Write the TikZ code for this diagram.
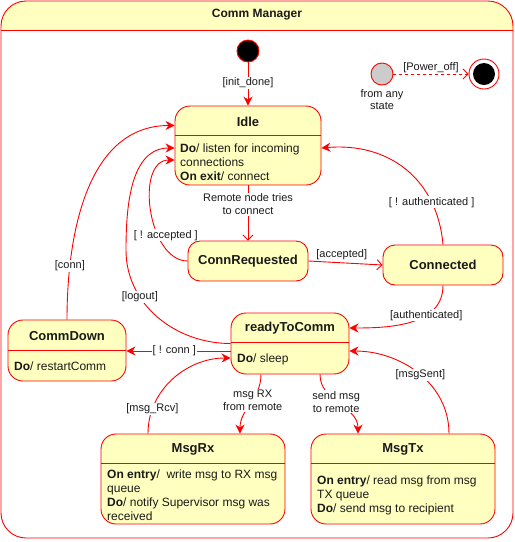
\documentclass[tikz,border=0pt]{standalone}
\usepackage{fontspec}
\setmainfont{Liberation Sans}
\usetikzlibrary{arrows.meta,calc,positioning}
\definecolor{stfill}{HTML}{FFFFC0}
\definecolor{stline}{HTML}{FF0000}
\definecolor{txt}{HTML}{1A1A1A}

\tikzset{
  stbox/.style={draw=stline, line width=0.9pt, fill=stfill, rounded corners=15pt, inner sep=0pt},
  sttitle/.style={font=\fontsize{13}{15}\selectfont\bfseries, text=txt},
  stbody/.style={font=\fontsize{12}{14}\selectfont, align=left, anchor=west, inner sep=0pt, text=txt},
  lbl/.style={font=\fontsize{11}{13}\selectfont, fill=white, inner sep=1pt, align=center, text=txt},
  tr/.style={draw=stline, line width=0.9pt, -{Stealth[length=9pt,width=9pt]}},
  tropen/.style={draw=stline, line width=0.9pt, -{Straight Barb[length=5pt,width=10pt]}},
}

\begin{document}
\begin{tikzpicture}[x=1pt,y=1pt]
  \useasboundingbox (0,0) rectangle (515,-542);
  % frame of the composite state
  \begin{scope}
    \clip (1,-1) rectangle (513,-30);
    \fill[stfill, rounded corners=25pt] (1,-1) rectangle (513,-538);
  \end{scope}
  \draw[stline, line width=0.9pt, rounded corners=25pt] (1,-1) rectangle (513,-538);
  \draw[stline, line width=0.9pt] (1,-30) -- (513,-30);
  \node[font=\fontsize{12}{14}\selectfont\bfseries, text=txt] (mgr) at (257,-15) {Comm Manager};

  % pseudo states
  \node[circle, fill=black, draw=stline, line width=0.9pt, minimum size=22pt, inner sep=0pt] (init) at (248,-51) {};
  \node[circle, fill=black!20, draw=stline, line width=0.9pt, minimum size=22pt, inner sep=0pt] (anyst) at (382,-74) {};
  \node[lbl, fill=none, below=3pt of anyst, font=\fontsize{11}{12}\selectfont] (anytxt) {from any\\state};
  \node[circle, draw=stline, line width=0.9pt, fill=white, minimum size=30pt, inner sep=0pt] (final) at (484,-74) {};
  \node[circle, fill=black, minimum size=22pt, inner sep=0pt] (finalin) at (final) {};

  % states
  \node[stbox, minimum width=146pt, minimum height=79pt] (idle) at (248,-145.5) {};
  \draw[stline, line width=0.9pt] ([yshift=-30pt]idle.north west) -- ([yshift=-30pt]idle.north east);
  \node[sttitle] (idlet) at ([yshift=-16pt]idle.north) {Idle};
  \node[stbody] (idleb) at (180,-162) {\textbf{Do}/ listen for incoming\\connections\\\textbf{On exit}/ connect};

  \node[stbox, rounded corners=12pt, minimum width=120pt, minimum height=40pt] (connreq) at (248,-261) {};
  \node[sttitle] (connreqt) at (connreq) {ConnRequested};

  \node[stbox, rounded corners=12pt, minimum width=120pt, minimum height=40pt] (connected) at (443,-265) {};
  \node[sttitle] (connectedt) at (connected) {Connected};

  \node[stbox, minimum width=118pt, minimum height=61pt] (ready) at (290,-343.5) {};
  \draw[stline, line width=0.9pt] ([yshift=-30pt]ready.north west) -- ([yshift=-30pt]ready.north east);
  \node[sttitle] (readyt) at ([yshift=-16pt]ready.north) {readyToComm};
  \node[stbody] (readyb) at (237,-359) {\textbf{Do}/ sleep};

  \node[stbox, minimum width=118pt, minimum height=61pt] (commdown) at (67,-350.5) {};
  \draw[stline, line width=0.9pt] ([yshift=-31pt]commdown.north west) -- ([yshift=-31pt]commdown.north east);
  \node[sttitle] (commdownt) at ([yshift=-16pt]commdown.north) {CommDown};
  \node[stbody] (commdownb) at (14,-366) {\textbf{Do}/ restartComm};

  \node[stbox, minimum width=184pt, minimum height=90pt] (msgrx) at (193,-479) {};
  \draw[stline, line width=0.9pt] ([yshift=-30pt]msgrx.north west) -- ([yshift=-30pt]msgrx.north east);
  \node[sttitle] (msgrxt) at ([yshift=-16pt]msgrx.north) {MsgRx};
  \node[stbody] (msgrxb) at (107,-495) {\textbf{On entry}/\ \ write msg to RX msg\\queue\\\textbf{Do}/ notify Supervisor msg was\\received};

  \node[stbox, minimum width=184pt, minimum height=90pt] (msgtx) at (403,-479) {};
  \draw[stline, line width=0.9pt] ([yshift=-30pt]msgtx.north west) -- ([yshift=-30pt]msgtx.north east);
  \node[sttitle] (msgtxt) at ([yshift=-16pt]msgtx.north) {MsgTx};
  \node[stbody] (msgtxb) at (317,-495) {\textbf{On entry}/ read msg from msg\\TX queue\\\textbf{Do}/ send msg to recipient};

  % transitions
  \draw[tr] (init) -- node[lbl, pos=0.48] {[init\_done]} (idle);
  \draw[tropen, dashed] (anyst) -- node[lbl, above, fill=none] {[Power\_off]} (final);
  \draw[tropen] (idle) -- node[lbl, pos=0.34] {Remote node tries\\to connect} (connreq);
  \draw[tropen] (connreq.east) -- node[lbl, above=2pt, fill=none, pos=0.45] {[accepted]} (connected.west);
  \draw[tr] (connected.north) to[out=95, in=5, looseness=1.1] node[lbl, pos=0.24] {[ ! authenticated ]} ([yshift=-2.5pt]idle.east);
  \draw[tr] (connreq.west) to[out=180, in=180] node[lbl, pos=0.33, xshift=8pt] {[ ! accepted ]} ([yshift=-14.5pt]idle.west);
  \draw[tr] (ready.west) to[out=180, in=-90] node[lbl, pos=0.68] {[logout]} (126,-250)
    to[out=90, in=180] ([yshift=-2.5pt]idle.west);
  \draw[tr] (commdown.north) to[out=90, in=180] node[lbl, pos=0.2] {[conn]} ([yshift=20pt]idle.west);
  \draw[tr] (connected.south) to[out=-90, in=0] node[lbl, pos=0.35] {[authenticated]} ([yshift=15.5pt]ready.east);
  \draw[tr] ([yshift=-7.5pt]ready.west) -- node[lbl, pos=0.54] {[ ! conn ]} ([yshift=-0.5pt]commdown.east);
  \draw[tr] ([xshift=-29pt]ready.south) to[out=-90, in=90] node[lbl, pos=0.43] {msg RX\\from remote} ([xshift=47pt]msgrx.north);
  \draw[tr] ([xshift=30pt]ready.south) to[out=-90, in=90] node[lbl, pos=0.45] {send msg\\to remote} ([xshift=-45pt]msgtx.north);
  \draw[tr] ([xshift=-45pt]msgrx.north) to[out=90, in=180] node[lbl, pos=0.2] {[msg\_Rcv]} ([yshift=-14.5pt]ready.west);
  \draw[tr] ([xshift=46pt]msgtx.north) to[out=90, in=0] node[lbl, pos=0.48] {[msgSent]} ([yshift=-7.5pt]ready.east);
\end{tikzpicture}
\end{document}
